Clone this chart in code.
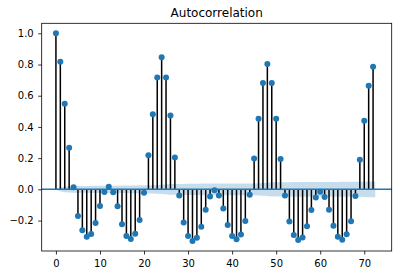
<!DOCTYPE html>
<html>
<head>
<meta charset="utf-8">
<script src="https://cdn.jsdelivr.net/npm/d3@7"></script>
<style>
  html, body { margin: 0; padding: 0; background: #fff; }
  svg { display: block; font-family: 'DejaVu Sans', sans-serif; }
  .tick text { font-family: 'DejaVu Sans', sans-serif; font-size: 10px; fill: #000; }
  .tick line { stroke: #000; stroke-width: 0.8; }
</style>
</head>
<body>
<div id="chart"></div>
<script>
// ACF values for lags 0..72
const lags = d3.range(73);
const acfValues = [
  1.0, 0.817, 0.548, 0.267, 0.013, -0.171, -0.262, -0.303, -0.286, -0.215,
  -0.107, -0.017, 0.017, -0.019, -0.109, -0.224, -0.299, -0.318, -0.284, -0.196,
  -0.022, 0.219, 0.481, 0.717, 0.847, 0.717, 0.474, 0.204, -0.039, -0.213,
  -0.299, -0.331, -0.31, -0.239, -0.131, -0.045, -0.006, -0.039, -0.123, -0.228,
  -0.299, -0.32, -0.29, -0.202, -0.034, 0.198, 0.453, 0.681, 0.804, 0.681,
  0.453, 0.194, -0.039, -0.206, -0.292, -0.325, -0.308, -0.237, -0.133, -0.052,
  -0.015, -0.049, -0.131, -0.234, -0.303, -0.323, -0.288, -0.204, -0.043, 0.189,
  0.44, 0.664, 0.785
];
// half width of the shaded confidence band per lag
const bandHalfWidth = [
  0, 0.012, 0.018, 0.02, 0.021, 0.021, 0.022, 0.022, 0.023, 0.023,
  0.023, 0.023, 0.023, 0.023, 0.023, 0.024, 0.024, 0.025, 0.025, 0.026,
  0.026, 0.026, 0.027, 0.028, 0.030, 0.032, 0.034, 0.035, 0.035, 0.035,
  0.036, 0.036, 0.036, 0.037, 0.037, 0.037, 0.037, 0.037, 0.037, 0.037,
  0.038, 0.038, 0.038, 0.038, 0.038, 0.038, 0.039, 0.041, 0.043, 0.045,
  0.046, 0.046, 0.046, 0.046, 0.047, 0.047, 0.047, 0.047, 0.047, 0.047,
  0.047, 0.047, 0.047, 0.047, 0.047, 0.048, 0.048, 0.048, 0.048, 0.048,
  0.049, 0.050, 0.051
];
const xTicks = [0, 10, 20, 30, 40, 50, 60, 70];
const yTicks = [-0.2, 0.0, 0.2, 0.4, 0.6, 0.8, 1.0];
const title = 'Autocorrelation';

const width = 399;
const height = 277;
const marginLeft = 41.7;
const marginRight = 7.3;
const marginTop = 23.3;
const marginBottom = 26;

const blue = '#1f77b4';

const xScale = d3
  .scaleLinear()
  .domain([-3.23, 76.23])
  .range([marginLeft, width - marginRight]);

const yScale = d3
  .scaleLinear()
  .domain([-0.395, 1.064])
  .range([height - marginBottom, marginTop]);

const svg = d3
  .select('#chart')
  .append('svg')
  .attr('width', width)
  .attr('height', height);

// confidence band (first/last lag pushed out by half a lag)
const bandPoints = lags.map((l, i) => ({
  x: i === 0 ? l - 0.5 : i === lags.length - 1 ? l + 0.5 : l,
  h: bandHalfWidth[i],
}));

svg
  .append('path')
  .datum(bandPoints)
  .attr('fill', blue)
  .attr('fill-opacity', 0.25)
  .attr(
    'd',
    d3
      .area()
      .x((d) => xScale(d.x))
      .y0((d) => yScale(-d.h))
      .y1((d) => yScale(d.h))
  );

// stems
svg
  .append('g')
  .selectAll('line')
  .data(lags)
  .join('line')
  .attr('x1', (d) => xScale(d))
  .attr('x2', (d) => xScale(d))
  .attr('y1', yScale(0))
  .attr('y2', (d, i) => yScale(acfValues[i]))
  .attr('stroke', '#000')
  .attr('stroke-width', 1.5);

// zero line
svg
  .append('line')
  .attr('x1', marginLeft)
  .attr('x2', width - marginRight)
  .attr('y1', yScale(0))
  .attr('y2', yScale(0))
  .attr('stroke', blue)
  .attr('stroke-width', 1.5);

// markers
svg
  .append('g')
  .selectAll('circle')
  .data(lags)
  .join('circle')
  .attr('cx', (d) => xScale(d))
  .attr('cy', (d, i) => yScale(acfValues[i]))
  .attr('r', 3)
  .attr('fill', blue);

// axes
svg
  .append('g')
  .attr('transform', `translate(0,${height - marginBottom})`)
  .call(
    d3
      .axisBottom(xScale)
      .tickValues(xTicks)
      .tickSize(3.5)
      .tickPadding(5)
      .tickFormat(d3.format('d'))
  )
  .call((g) => g.attr('font-family', null).attr('font-size', null))
  .call((g) => g.select('.domain').remove());

svg
  .append('g')
  .attr('transform', `translate(${marginLeft},0)`)
  .call(
    d3
      .axisLeft(yScale)
      .tickValues(yTicks)
      .tickSize(3.5)
      .tickPadding(4.5)
      .tickFormat((d) => d3.format('.1f')(d).replace('-', '\u2212'))
  )
  .call((g) => g.attr('font-family', null).attr('font-size', null))
  .call((g) => g.select('.domain').remove());

// frame
svg
  .append('rect')
  .attr('x', marginLeft)
  .attr('y', marginTop)
  .attr('width', width - marginLeft - marginRight)
  .attr('height', height - marginTop - marginBottom)
  .attr('fill', 'none')
  .attr('stroke', '#000')
  .attr('stroke-width', 0.8);

svg
  .append('text')
  .attr('x', (marginLeft + width - marginRight) / 2)
  .attr('y', marginTop - 6)
  .attr('text-anchor', 'middle')
  .attr('font-size', 12)
  .text(title);
</script>
</body>
</html>
